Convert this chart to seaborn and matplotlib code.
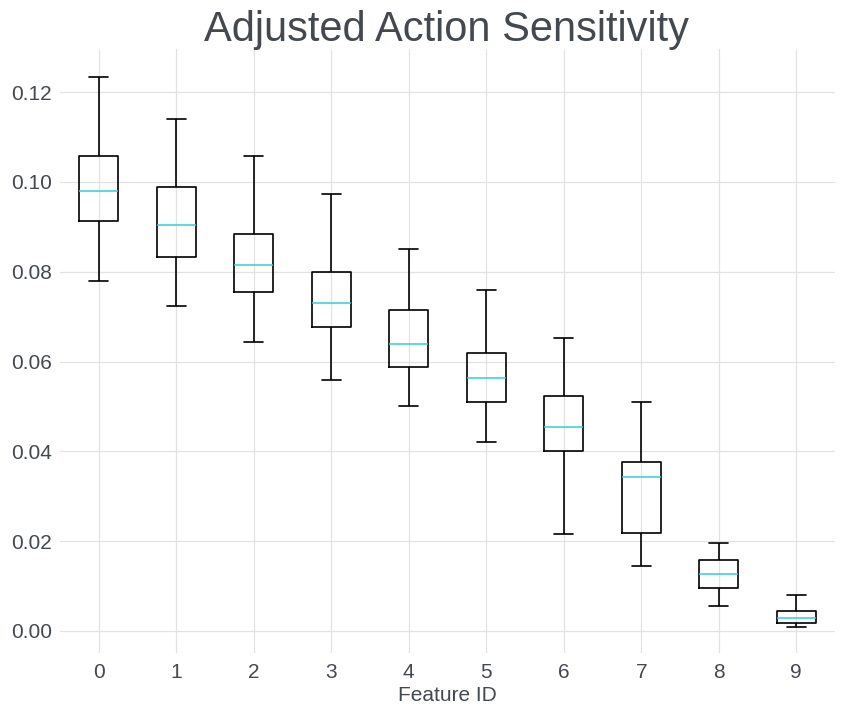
import matplotlib
matplotlib.use("Agg")
import matplotlib.pyplot as plt
import seaborn as sns
import pandas as pd
import numpy as np

features = [0, 1, 2, 3, 4, 5, 6, 7, 8, 9]
whisker_low = [0.0779, 0.0723, 0.0643, 0.0560, 0.0500, 0.0420, 0.0215, 0.0145, 0.0055, 0.0010]
q1 =          [0.0914, 0.0832, 0.0754, 0.0676, 0.0587, 0.0511, 0.0400, 0.0218, 0.0095, 0.0017]
median =      [0.0979, 0.0903, 0.0816, 0.0730, 0.0638, 0.0563, 0.0454, 0.0342, 0.0128, 0.0030]
q3 =          [0.1057, 0.0988, 0.0885, 0.0799, 0.0715, 0.0618, 0.0523, 0.0376, 0.0157, 0.0044]
whisker_high = [0.1233, 0.1141, 0.1057, 0.0972, 0.0850, 0.0759, 0.0652, 0.0509, 0.0197, 0.0080]

rows = []
for i, f in enumerate(features):
    for v in (whisker_low[i], q1[i], median[i], q3[i], whisker_high[i]):
        rows.append({"Feature ID": str(f), "value": v})
df = pd.DataFrame(rows)

sns.set_style("white")
plt.rcParams['font.family'] = ['Liberation Sans', 'DejaVu Sans']

text_color = "#444950"
fig = plt.figure(figsize=(8.45, 7.15), dpi=100)
ax = fig.add_axes([60/845, 62/715, 775/845, 604/715])

sns.boxplot(data=df, x="Feature ID", y="value", order=[str(f) for f in features],
            whis=(0, 100), width=0.5, fill=False, ax=ax, linewidth=1.2,
            color="black",
            boxprops=dict(color="black"),
            whiskerprops=dict(color="black"),
            capprops=dict(color="black"),
            medianprops=dict(color="#2fd0d4", linewidth=1.1),
            showfliers=False)

ax.set_xlim(-0.5, 9.5)
ax.set_ylim(-0.0049, 0.1296)
ax.set_yticks([0.0, 0.02, 0.04, 0.06, 0.08, 0.10, 0.12])
ax.set_yticklabels(["0.00", "0.02", "0.04", "0.06", "0.08", "0.10", "0.12"])
ax.grid(True, color="#e2e2e2", linewidth=0.9)
ax.set_axisbelow(True)
for s in ax.spines.values():
    s.set_visible(False)
ax.tick_params(axis="both", length=0, labelsize=15, labelcolor=text_color)
ax.tick_params(axis="x", pad=7)
ax.tick_params(axis="y", pad=6)
ax.set_xlabel("Feature ID", fontsize=15, color=text_color, labelpad=3)
ax.set_ylabel("")
fig.text(447/845, 1 - 30/715, "Adjusted Action Sensitivity", ha="center", va="center",
         fontsize=30, color=text_color)

fig.savefig("out.png", dpi=100)
